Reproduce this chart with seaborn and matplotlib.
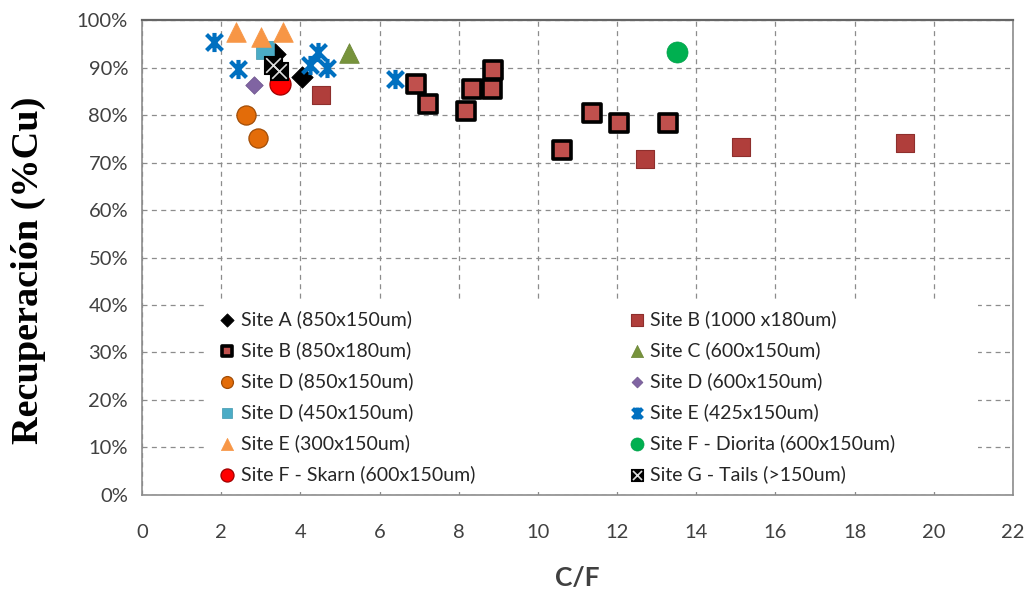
import matplotlib
matplotlib.use("Agg")
import matplotlib.pyplot as plt
import seaborn as sns
import numpy as np
from matplotlib.patches import Rectangle
from matplotlib.path import Path
from matplotlib.legend_handler import HandlerTuple
from matplotlib.ticker import FuncFormatter

# ---------------- data ----------------
site_a_x = [3.35, 4.03]
site_a_y = [92.8, 88.1]
site_b1000_x = [4.52, 12.70, 15.14, 19.28]
site_b1000_y = [84.3, 70.8, 73.3, 74.2]
site_b850_x = [6.92, 7.23, 8.18, 8.33, 8.83, 8.87, 10.62, 11.37, 12.06, 13.28]
site_b850_y = [86.5, 82.4, 80.9, 85.4, 85.5, 89.4, 72.6, 80.5, 78.4, 78.4]
site_c_x = [5.24]
site_c_y = [93.1]
site_d850_x = [2.63, 2.94]
site_d850_y = [80.0, 75.1]
site_d600_x = [2.82]
site_d600_y = [86.4]
site_d450_x = [3.10]
site_d450_y = [93.7]
site_e425_x = [1.82, 2.43, 4.45, 4.24, 4.68, 6.39]
site_e425_y = [95.3, 89.6, 93.2, 90.5, 89.9, 87.6]
site_e300_x = [2.37, 3.00, 3.57]
site_e300_y = [97.4, 96.5, 97.4]
site_f_dio_x = [13.52]
site_f_dio_y = [93.3]
site_f_sk_x = [3.48]
site_f_sk_y = [86.6]
site_g_x = [3.32, 3.45]
site_g_y = [90.6, 89.2]

labels = ["Site A (850x150um)", "Site B (1000 x180um)", "Site B (850x180um)",
          "Site C (600x150um)", "Site D (850x150um)", "Site D (600x150um)",
          "Site D (450x150um)", "Site E (425x150um)", "Site E (300x150um)",
          "Site F - Diorita (600x150um)", "Site F - Skarn (600x150um)",
          "Site G - Tails (>150um)"]

x_ticks = list(range(0, 23, 2))
y_ticks = list(range(0, 101, 10))

# ---------------- style ----------------
sns.set_theme(style="white")
plt.rcParams["font.family"] = ["Lato", "DejaVu Sans"]

fig = plt.figure(figsize=(10.34, 5.96), dpi=100)
ax = fig.add_axes([0.1373, 0.1695, 0.8424, 0.7969])
ax.set_axisbelow(True)

# Excel-like "star" marker: X with a vertical bar
star_path = Path([(-1, -1), (1, 1), (-1, 1), (1, -1), (0, -1.2), (0, 1.2)],
                 [Path.MOVETO, Path.LINETO, Path.MOVETO, Path.LINETO, Path.MOVETO, Path.LINETO])

def sc(x, y, **kw):
    sns.scatterplot(x=x, y=y, ax=ax, **kw)
    return ax.collections[-1]

h = {}
h[0] = sc(site_a_x, site_a_y, marker="D", s=120, color="black", edgecolor="black", linewidth=0.5, zorder=3)
h[1] = sc(site_b1000_x, site_b1000_y, marker="s", s=175, color="#B03E3B", edgecolor="#8E2F2D", linewidth=0.8, zorder=3)
h[2] = sc(site_b850_x, site_b850_y, marker="s", s=150, color="#C0504D", edgecolor="black", linewidth=2.6, zorder=3)
h[3] = sc(site_c_x, site_c_y, marker="^", s=200, color="#77933C", edgecolor="#6A8434", linewidth=0.5, zorder=3)
h[4] = sc(site_d850_x, site_d850_y, marker="o", s=190, color="#E36C09", edgecolor="#A24D06", linewidth=0.9, zorder=3)
h[5] = sc(site_d600_x, site_d600_y, marker="D", s=80, color="#8064A2", edgecolor="#6E558D", linewidth=0.5, zorder=3)
h[6] = sc(site_d450_x, site_d450_y, marker="s", s=150, color="#4BACC6", edgecolor="#3F97AE", linewidth=0.5, zorder=3)
h[7] = sc(site_e425_x, site_e425_y, marker=star_path, s=190, color="#0070C0", edgecolor="#0070C0",
          linewidth=3.0, zorder=3)
h[8] = sc(site_e300_x, site_e300_y, marker="^", s=200, color="#F79646", edgecolor="#F79646", linewidth=0.5, zorder=3)
h[9] = sc(site_f_dio_x, site_f_dio_y, marker="o", s=230, color="#00B050", edgecolor="#00A04A", linewidth=0.5, zorder=3)
h[10] = sc(site_f_sk_x, site_f_sk_y, marker="o", s=230, color="#FF0000", edgecolor="#A00000", linewidth=0.9, zorder=3)
g_sq = sc(site_g_x, site_g_y, marker="s", s=170, color="black", edgecolor="black", linewidth=0.8, zorder=3)
g_x = sc(site_g_x, site_g_y, marker="x", s=110, color="#DDDDDD", linewidth=1.2, zorder=3.1)
h[11] = (g_sq, g_x)

if ax.get_legend() is not None:
    ax.get_legend().remove()

# ---------------- axes ----------------
ax.set_xlim(0, 22)
ax.set_ylim(0, 100)
ax.set_xticks(x_ticks)
ax.set_yticks(y_ticks)
ax.yaxis.set_major_formatter(FuncFormatter(lambda v, p: f"{v:.0f}%"))
ax.grid(True, linestyle=(0, (4, 3.5)), color="#8c8c8c", linewidth=0.9)
for side in ["left", "bottom", "right", "top"]:
    ax.spines[side].set_color("#8c8c8c")
    ax.spines[side].set_linewidth(1.2)
ax.spines["top"].set_color("#666666")
ax.spines["top"].set_linewidth(1.6)
ax.tick_params(axis="both", direction="out", length=6, width=1, color="#8c8c8c",
               labelsize=14.5, labelcolor="#404040", pad=4)
ax.tick_params(axis="x", pad=15)

ax.set_xlabel("C/F", fontsize=19, fontweight="bold", color="#404040", labelpad=18)
ax.set_ylabel("Recuperación (%Cu)", fontsize=27.5, fontweight="bold", color="black",
              family=["Liberation Serif", "DejaVu Serif"])
ax.yaxis.set_label_coords(-0.110, 0.474)

# white legend background
ax.add_patch(Rectangle((0.072, 0.006), 0.888, 0.398, transform=ax.transAxes,
                       facecolor="white", edgecolor="none", zorder=1.5))

# legend: row-major order of the reference -> column-major for matplotlib
order = [0, 2, 4, 6, 8, 10, 1, 3, 5, 7, 9, 11]
leg_h = [h[i] for i in order]
leg_l = [labels[i] for i in order]
leg = ax.legend(leg_h, leg_l, ncol=2, loc="upper left", bbox_to_anchor=(0.080, 0.406),
                frameon=False, fontsize=14, handlelength=0.8, handletextpad=0.3,
                labelspacing=0.68, columnspacing=7.9, borderaxespad=0, borderpad=0.4,
                markerscale=0.62,
                handler_map={tuple: HandlerTuple(ndivide=1, pad=0)})
for t in leg.get_texts():
    t.set_color("#262626")

fig.savefig("out.png", dpi=100)
